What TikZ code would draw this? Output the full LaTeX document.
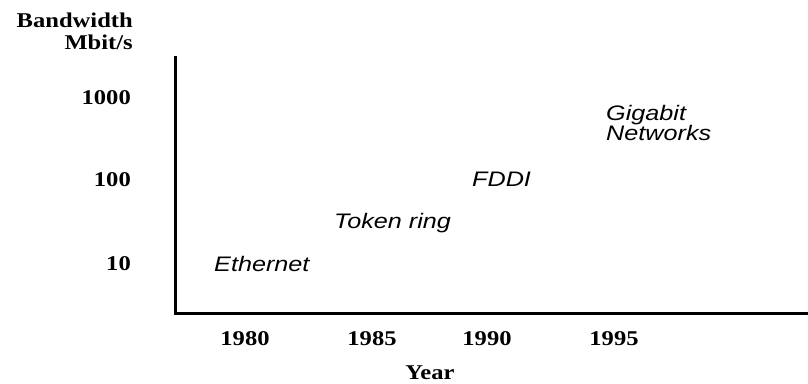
\documentclass[tikz,border=0pt]{standalone}
\usepackage{fontspec}
\usepackage{graphicx}
\setmainfont{Liberation Serif}
\newfontfamily\labelfont{Liberation Sans}
% the reference letters are wider than they are tall
\newcommand{\widetext}[2][1.2]{\scalebox{#1}[1]{#2}}
\usetikzlibrary{positioning}
\tikzset{
    axis style/.style={line width=3pt},
    tick label/.style={font=\fontsize{21}{22}\selectfont\bfseries},
    net label/.style={font=\labelfont\itshape\fontsize{21}{19}\selectfont,anchor=base west,inner sep=0pt},
}
\tikzstyle{every node}=[inner sep=0pt]

\begin{document}
\begin{tikzpicture}[x=1pt,y=1pt]
        \useasboundingbox (0,0) rectangle (808,383);
        \coordinate (top) at (175,327);
        \coordinate (origin) at (175,70);
        \coordinate (right) at (808,70);
        \draw[axis style] (top) -- (origin) -- (right);

        \node[tick label, anchor=base east] (bw) at (133,333)
        {\widetext[1.17]{\begin{tabular}[b]{@{}r@{}}Bandwidth\\Mbit/s\end{tabular}}};
        \foreach \v/\y in {1000/278, 100/196, 10/112}{
                \node[tick label, anchor=base east] (bw\v) at (131,\y) {\widetext[1.17]{\v}};
            };
        \foreach \yr/\x in {1980/245, 1985/372, 1990/487, 1995/614}{
                \node[tick label, anchor=base] (yr\yr) at (\x,38) {\widetext[1.17]{\yr}};
            };
        \node[tick label, anchor=base] (year) at (430,4) {\widetext[1.17]{Year}};

        \node[net label] (ethernet) at (214,111) {\widetext{Ethernet}};
        \node[net label] (token) at (334,154) {\widetext{Token ring}};
        \node[net label] (fddi) at (472,196) {\widetext{FDDI}};
        \node[net label] (gigabit) at (606,242)
        {\widetext{\begin{tabular}[b]{@{}l@{}}Gigabit\\Networks\end{tabular}}};
    \end{tikzpicture}
\end{document}
